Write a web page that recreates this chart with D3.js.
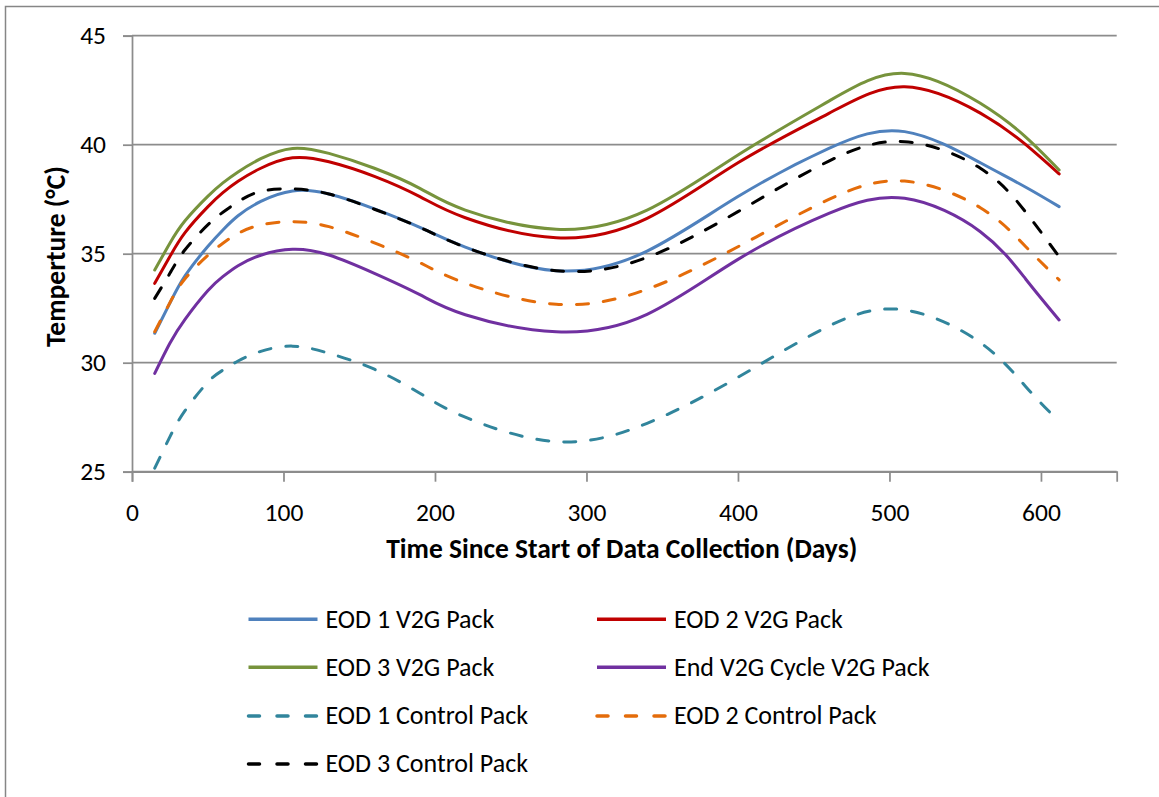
<!DOCTYPE html>
<html>
<head>
<meta charset="utf-8">
<script src="https://cdn.jsdelivr.net/npm/d3@7"></script>
<style>
  html, body { margin: 0; padding: 0; background: #fff; }
  svg { display: block; }
  text { font-family: Carlito, Calibri, Lato, sans-serif; fill: #000; }
</style>
</head>
<body>
<svg id="chart" width="1159" height="797"></svg>
<script>
// Days since the start of data collection at which each trend is sampled
const days = [15, 25, 35, 50, 60, 70, 85, 106, 130, 160, 190, 220, 280, 340, 400, 460, 510, 560, 590, 612];

// Temperature trends (°C)
const eod1V2G     = [31.35, 32.73, 33.98, 35.33, 36.09, 36.74, 37.40, 37.88, 37.74, 37.06, 36.21, 35.30, 34.22, 35.12, 37.62, 39.83, 40.60, 39.17, 38.05, 37.16];
const eod2V2G     = [33.64, 34.87, 35.97, 37.15, 37.80, 38.32, 38.92, 39.40, 39.22, 38.55, 37.62, 36.65, 35.73, 36.62, 39.17, 41.44, 42.66, 41.45, 40.00, 38.66];
const eod3V2G     = [34.25, 35.48, 36.51, 37.63, 38.25, 38.75, 39.36, 39.83, 39.60, 38.92, 38.00, 37.00, 36.12, 37.00, 39.53, 42.00, 43.27, 41.90, 40.35, 38.84];
const endCycleV2G = [29.51, 30.89, 31.99, 33.30, 33.95, 34.45, 34.93, 35.20, 34.94, 34.10, 33.12, 32.20, 31.42, 32.22, 34.74, 36.85, 37.54, 36.01, 33.83, 31.96];
const eod1Control = [25.16, 26.60, 27.80, 29.10, 29.66, 30.08, 30.52, 30.76, 30.43, 29.70, 28.60, 27.50, 26.38, 27.22, 29.33, 31.68, 32.42, 30.92, 28.90, 27.30];
const eod2Control = [31.42, 32.75, 33.85, 34.92, 35.48, 35.93, 36.32, 36.47, 36.24, 35.50, 34.59, 33.65, 32.68, 33.37, 35.32, 37.49, 38.33, 37.11, 35.32, 33.80];
const eod3Control = [32.95, 34.10, 35.18, 36.32, 36.90, 37.38, 37.86, 37.97, 37.74, 37.04, 36.21, 35.30, 34.22, 34.83, 36.93, 39.25, 40.14, 38.92, 36.90, 34.86];

const seriesNames = [
  "EOD 1 V2G Pack", "EOD 2 V2G Pack", "EOD 3 V2G Pack", "End V2G Cycle V2G Pack",
  "EOD 1 Control Pack", "EOD 2 Control Pack", "EOD 3 Control Pack"
];
const seriesValues = [eod1V2G, eod2V2G, eod3V2G, endCycleV2G, eod1Control, eod2Control, eod3Control];

const xTicks = [0, 100, 200, 300, 400, 500, 600];
const yTicks = [25, 30, 35, 40, 45];

const xTitle = "Time Since Start of Data Collection (Days)";
const yTitle = "Temperture (\u00B0C)";

// Styling per series
const colors = ["#4F81BD", "#C00000", "#77933C", "#7030A0", "#31859C", "#E46C0A", "#000000"];
const dashed = [false, false, false, false, true, true, true];

const svg = d3.select("#chart");

// Outer chart frame
svg.append("rect")
  .attr("x", 5.5).attr("y", 6.5)
  .attr("width", 1200).attr("height", 850)
  .attr("fill", "none").attr("stroke", "#868686").attr("stroke-width", 1.5);

const x = d3.scaleLinear().domain([0, 650]).range([132, 1116.7]);
const y = d3.scaleLinear().domain([25, 45]).range([471.7, 35.7]);

const gridColor = "#8C8C8C";

// Horizontal gridlines
svg.append("g")
  .selectAll("line")
  .data(yTicks)
  .join("line")
  .attr("x1", x(0)).attr("x2", x(650))
  .attr("y1", d => y(d)).attr("y2", d => y(d))
  .attr("stroke", gridColor).attr("stroke-width", 1.75);

// Y axis
const yAxis = svg.append("g")
  .attr("transform", `translate(${x(0)},0)`)
  .call(d3.axisLeft(y).tickValues(yTicks).tickSize(9).tickPadding(17).tickFormat(d3.format("d")));
yAxis.select(".domain").attr("stroke", gridColor).attr("stroke-width", 1.75);
yAxis.selectAll(".tick line").attr("stroke", gridColor).attr("stroke-width", 1.75);
yAxis.selectAll(".tick text").attr("font-size", 25.5).attr("fill", "#000")
  .style("font-family", "Carlito, Calibri, Lato, sans-serif");

// X axis
const xAxis = svg.append("g")
  .attr("transform", `translate(0,${y(25)})`)
  .call(d3.axisBottom(x).tickValues(xTicks).tickSize(10).tickPadding(21).tickFormat(d3.format("d")));
xAxis.select(".domain").attr("stroke", gridColor).attr("stroke-width", 1.75);
xAxis.selectAll(".tick line").attr("stroke", gridColor).attr("stroke-width", 1.75);
xAxis.selectAll(".tick text").attr("font-size", 25.5).attr("fill", "#000")
  .style("font-family", "Carlito, Calibri, Lato, sans-serif");

// Axis titles
svg.append("text")
  .attr("x", 621.7).attr("y", 558.3)
  .attr("text-anchor", "middle")
  .attr("font-size", 27.5).attr("font-weight", "bold")
  .text(xTitle);

svg.append("text")
  .attr("transform", "translate(65,256.5) rotate(-90)")
  .attr("text-anchor", "middle")
  .attr("font-size", 27.5).attr("font-weight", "bold")
  .text(yTitle);

// Trend lines
const line = d3.line()
  .x((d, i) => x(days[i]))
  .y(d => y(d))
  .curve(d3.curveNatural);

svg.append("g")
  .selectAll("path")
  .data(seriesValues)
  .join("path")
  .attr("d", d => line(d))
  .attr("fill", "none")
  .attr("stroke", (d, i) => colors[i])
  .attr("stroke-width", 3)
  .attr("stroke-linecap", "round")
  .attr("stroke-dasharray", (d, i) => dashed[i] ? "12 15" : null);

// Legend: two columns
const legendCols = [248.5, 597];
const legendRows = [619.3, 667.3, 716, 764];
const legend = svg.append("g")
  .selectAll("g")
  .data(seriesNames)
  .join("g")
  .attr("transform", (d, i) => `translate(${legendCols[i % 2]},${legendRows[Math.floor(i / 2)]})`);

legend.append("line")
  .attr("x1", 0).attr("x2", 69)
  .attr("y1", 0).attr("y2", 0)
  .attr("stroke", (d, i) => colors[i])
  .attr("stroke-width", 3.5)
  .attr("stroke-linecap", (d, i) => dashed[i] ? "round" : "butt")
  .attr("stroke-dasharray", (d, i) => dashed[i] ? "11 17.5" : null);

legend.append("text")
  .attr("x", 77).attr("y", 0)
  .attr("dy", "0.32em")
  .attr("font-size", 26)
  .text(d => d);
</script>
</body>
</html>
